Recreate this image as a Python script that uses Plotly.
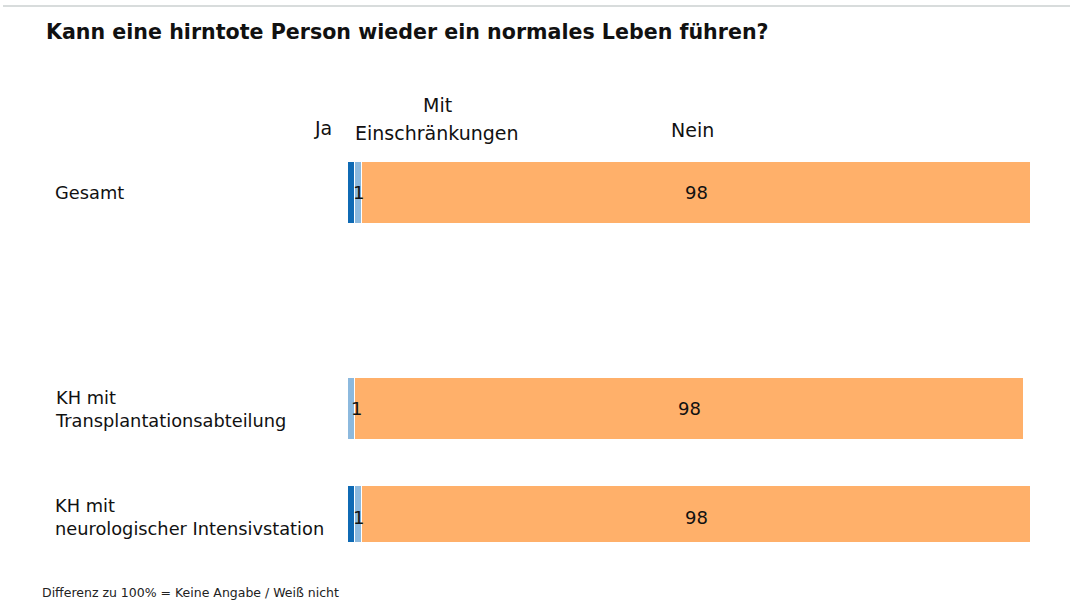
import plotly.graph_objects as go

categories = ["Gesamt", "", "KH mit<br>Transplantationsabteilung", "KH mit<br>neurologischer Intensivstation"]
ja = [1, None, 0, 1]
mit = [1, None, 1, 1]
nein = [98, None, 98, 98]
series_names = ["Ja", "Mit<br>Einschränkungen", "Nein"]
colors = ["#0f6ab4", "#8cb9de", "#ffb06a"]

ypos = [3, 2, 1, 0]
FONT = "DejaVu Sans, Arial, sans-serif"
L, R, T, B = 348, 39, 100, 60
PW = 1070 - L - R
PH = 602 - T - B


def px_to_paper_x(px):
    return (px - L) / PW


def px_to_paper_y(py):
    return (602 - B - py) / PH


fig = go.Figure()
for vals, name, col in zip([ja, mit, nein], series_names, colors):
    fig.add_trace(go.Bar(
        x=vals, y=ypos, orientation="h", name=name,
        marker=dict(color=col, line=dict(color="white", width=1)),
        width=0.58, showlegend=False, hoverinfo="x",
    ))
fig.update_layout(barmode="stack")

anns = []
for y, c, j, m, n in zip(ypos, categories, ja, mit, nein):
    if c:
        anns.append(dict(x=px_to_paper_x(53), xref="paper", y=y, yref="y", text=c, showarrow=False,
                         xanchor="left", yanchor="middle", align="left",
                         font=dict(size=17.8, color="#111")))
    if m is not None:
        anns.append(dict(x=max(j + m / 2, 1.3), y=y, text=str(m), showarrow=False,
                         font=dict(size=18, color="#111")))
        anns.append(dict(x=j + m + n / 2, y=y, text=str(n), showarrow=False,
                         font=dict(size=18, color="#111")))

# column headers
hdr = [
    (series_names[0], 334, 128, "right"),
    (series_names[1].split("<br>")[0], 437, 105, "center"),
    (series_names[1].split("<br>")[1], 437, 133, "center"),
    (series_names[2], 692, 130, "center"),
]
for txt, hx, hy, anc in hdr:
    anns.append(dict(x=px_to_paper_x(hx), xref="paper", y=px_to_paper_y(hy), yref="paper",
                     text=txt, showarrow=False, xanchor=anc, yanchor="middle",
                     font=dict(size=19, color="#111")))
# footer
anns.append(dict(x=px_to_paper_x(40), xref="paper", y=px_to_paper_y(592), yref="paper",
                 text="Differenz zu 100% = Keine Angabe / Weiß nicht", showarrow=False,
                 xanchor="left", yanchor="middle", font=dict(size=12.5, color="#222")))

fig.update_layout(
    annotations=anns,
    width=1070, height=602,
    margin=dict(l=L, r=R, t=T, b=B),
    paper_bgcolor="white", plot_bgcolor="white",
    font=dict(family=FONT, color="#111"),
    title=dict(text="<b>Kann eine hirntote Person wieder ein normales Leben führen?</b>",
               x=46 / 1070, xanchor="left", y=1 - 32 / 602, yanchor="middle",
               font=dict(size=20.6, color="#111")),
    xaxis=dict(range=[0, 100], visible=False),
    yaxis=dict(range=[-0.2315, 3.861], visible=False),
    shapes=[dict(type="line", xref="paper", yref="paper", x0=px_to_paper_x(3), x1=px_to_paper_x(1070),
                 y0=px_to_paper_y(6), y1=px_to_paper_y(6),
                 line=dict(color="#d8dcdc", width=2))],
    bargap=0,
)

fig.write_html("out.html", config={"displayModeBar": False},
               post_script="document.body.style.margin='0';document.body.style.overflow='hidden';")
